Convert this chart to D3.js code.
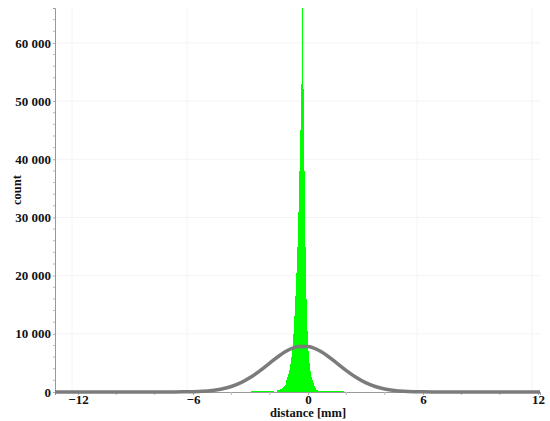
<!DOCTYPE html>
<html>
<head>
<meta charset="utf-8">
<script src="https://cdn.jsdelivr.net/npm/d3@7"></script>
<style>
  body { margin: 0; background: #fff; overflow: hidden; }
  svg { display: block; }
  text { font-family: "Liberation Serif", "Times New Roman", serif; font-weight: bold; fill: #111; }
</style>
</head>
<body>
<svg id="chart"></svg>
<script>
// histogram core, bins 0.05 mm wide, value = bin centre
const binCentres = [-1.60, -1.55, -1.50, -1.45, -1.40, -1.35, -1.30, -1.25, -1.20, -1.15,
  -1.10, -1.05, -1.00, -0.95, -0.90, -0.85, -0.80, -0.75, -0.70, -0.65,
  -0.60, -0.55, -0.50, -0.45, -0.40, -0.35, -0.30, -0.25, -0.20, -0.15,
  -0.10, -0.05, 0.00, 0.05, 0.10, 0.15, 0.20, 0.25, 0.30, 0.35,
  0.40, 0.45, 0.50, 0.55, 0.60];
const binCounts = [300, 350, 420, 500, 600, 700, 850, 1000, 1250, 1550,
  2000, 2500, 3100, 3800, 4800, 6000, 7800, 10000, 13000, 16500,
  20500, 25000, 31000, 38000, 45000, 53000, 66000, 52000, 38000, 25000,
  16000, 10500, 7000, 5000, 3600, 2600, 2000, 1500, 1000, 700,
  450, 350, 300, 250, 220];
const binWidth = 0.05;

// sparse tails, bins 0.25 mm wide
const tailCentres = [-3.875, -3.625, -3.375, -3.125, -2.875, -2.625, -2.375, -2.125, -1.875,
  0.75, 1.0, 1.25, 1.5, 1.75, 2.0, 2.25, 2.5, 2.75];
const tailCounts = [40, 50, 60, 70, 90, 110, 140, 180, 240,
  200, 170, 140, 110, 90, 70, 60, 50, 40];
const tailWidth = 0.25;

// fitted normal curve
const fitX = [-13.2, -9, -8, -7.5, -7, -6.5, -6, -5.5, -5, -4.5, -4, -3.5, -3, -2.5, -2, -1.5, -1, -0.5,
  0, 0.5, 1, 1.5, 2, 2.5, 3, 3.5, 4, 4.5, 5, 5.5, 6, 6.5, 7, 8, 12.1];
const fitY = [0, 0, 1, 3, 8, 22, 54, 123, 262, 517, 946, 1604, 2523, 3680, 4975, 6240, 7257, 7826,
  7826, 7257, 6240, 4975, 3680, 2523, 1604, 946, 517, 262, 123, 54, 22, 8, 3, 0, 0];

const xTicks = [-12, -6, 0, 6, 12];
const xMinor = [-10, -8, -4, -2, 2, 4, 8, 10];
const yTicks = [0, 10000, 20000, 30000, 40000, 50000, 60000];
const yMinor = [2000, 4000, 6000, 8000, 12000, 14000, 16000, 18000, 22000, 24000, 26000, 28000,
  32000, 34000, 36000, 38000, 42000, 44000, 46000, 48000, 52000, 54000, 56000, 58000, 62000, 64000];

const width = 550, height = 421;
const x = d3.scaleLinear().domain([-13.2, 12.1]).range([55, 540]);
const y = d3.scaleLinear().domain([0, 66000]).range([392, 8]);
const fmt = d3.formatLocale({ decimal: ".", thousands: " ", grouping: [3], currency: ["", ""] }).format(",d");

const svg = d3.select('#chart').attr('width', width).attr('height', height);

// grid
const grid = svg.append('g');
grid.selectAll('.gy').data(yTicks.slice(1)).enter().append('line')
  .attr('x1', x.range()[0]).attr('x2', x.range()[1])
  .attr('y1', d => y(d)).attr('y2', d => y(d))
  .attr('stroke', '#f4f4f4');
grid.selectAll('.gx').data(xTicks).enter().append('line')
  .attr('x1', d => x(d) - 6).attr('x2', d => x(d) - 6)
  .attr('y1', y.range()[0]).attr('y2', y.range()[1])
  .attr('stroke', '#f4f4f4');

// histogram
const hist = svg.append('g').attr('fill', '#00ff00').attr('shape-rendering', 'crispEdges');
hist.selectAll('.tail').data(tailCentres).enter().append('rect')
  .attr('x', d => x(d - tailWidth / 2))
  .attr('width', x(tailWidth) - x(0))
  .attr('y', (d, i) => y(tailCounts[i]))
  .attr('height', (d, i) => y(0) - y(tailCounts[i]));
hist.selectAll('.bin').data(binCentres).enter().append('rect')
  .attr('x', d => x(d - binWidth / 2))
  .attr('width', x(binWidth) - x(0) + 0.3)
  .attr('y', (d, i) => y(binCounts[i]))
  .attr('height', (d, i) => y(0) - y(binCounts[i]));

// axes
const yAxis = svg.append('g').attr('transform', `translate(${x.range()[0]},0)`)
  .call(d3.axisLeft(y).tickValues(yTicks).tickFormat(fmt).tickSize(2).tickPadding(2));
yAxis.select('.domain').attr('stroke', '#999');
yAxis.selectAll('.tick line').attr('stroke', '#aaa');
yAxis.selectAll('text').style('font-size', '13px');
svg.append('g').selectAll('line').data(yMinor).enter().append('line')
  .attr('x1', x.range()[0] - 2).attr('x2', x.range()[0])
  .attr('y1', d => y(d)).attr('y2', d => y(d))
  .attr('stroke', '#bbb');

const xAxis = svg.append('g').attr('transform', `translate(0,${y(0)})`)
  .call(d3.axisBottom(x).tickValues(xTicks).tickSize(3).tickPadding(0));
xAxis.select('.domain').attr('stroke', '#999');
xAxis.selectAll('.tick line').attr('stroke', '#aaa');
xAxis.selectAll('text').style('font-size', '13px');
svg.append('g').selectAll('line').data(xMinor).enter().append('line')
  .attr('x1', d => x(d)).attr('x2', d => x(d))
  .attr('y1', y(0)).attr('y2', y(0) + 3)
  .attr('stroke', '#bbb');

// fitted curve
const line = d3.line().x(d => x(d)).y((d, i) => y(fitY[i])).curve(d3.curveMonotoneX);
svg.append('path').datum(fitX)
  .attr('d', line)
  .attr('fill', 'none')
  .attr('stroke', '#7b7b7b')
  .attr('stroke-width', 3.5);

// labels
svg.append('text').attr('x', x(0)).attr('y', 417).attr('text-anchor', 'middle')
  .style('font-size', '12.5px').text('distance [mm]');
svg.append('text').attr('transform', 'translate(21,190) rotate(-90)').attr('text-anchor', 'middle')
  .style('font-size', '12.5px').text('count');
</script>
</body>
</html>
